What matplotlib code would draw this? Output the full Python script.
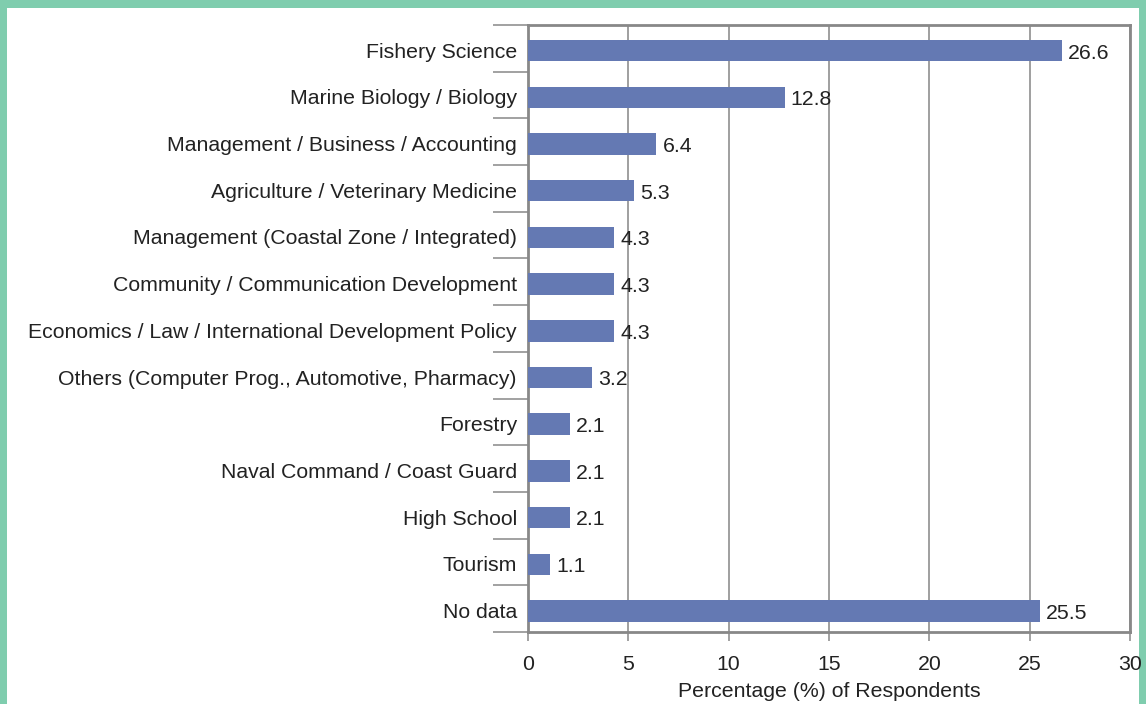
import matplotlib
matplotlib.use("Agg")
import matplotlib.pyplot as plt
from matplotlib.patches import Rectangle
import numpy as np

categories = [
    "Fishery Science",
    "Marine Biology / Biology",
    "Management / Business / Accounting",
    "Agriculture / Veterinary Medicine",
    "Management (Coastal Zone / Integrated)",
    "Community / Communication Development",
    "Economics / Law / International Development Policy",
    "Others (Computer Prog., Automotive, Pharmacy)",
    "Forestry",
    "Naval Command / Coast Guard",
    "High School",
    "Tourism",
    "No data",
]
values = [26.6, 12.8, 6.4, 5.3, 4.3, 4.3, 4.3, 3.2, 2.1, 2.1, 2.1, 1.1, 25.5]
xticks = [0, 5, 10, 15, 20, 25, 30]

plt.rcParams["font.family"] = ["Liberation Sans", "DejaVu Sans"]
FS = 15.3

W, H = 1146, 704
fig = plt.figure(figsize=(W / 100, H / 100), dpi=100)
fig.patch.set_facecolor("#7fcdae")
fig.patches.append(Rectangle((7 / W, 0), (1139 - 7) / W, 1 - 8 / H,
                             transform=fig.transFigure, facecolor="white",
                             edgecolor="none", zorder=-10))

ax = fig.add_axes([528 / W, 1 - 632 / H, (1130 - 528) / W, (632 - 25) / H])
ax.set_facecolor("white")

n = len(categories)
y = np.arange(n)
ax.barh(y + 0.05, values, height=0.46, color="#6479b3", zorder=3)
for yi, v in zip(y, values):
    ax.text(v + 0.3, yi + 0.1, f"{v:.1f}", va="center", ha="left",
            fontsize=FS, color="#222222", zorder=4)

ax.set_ylim(n - 0.5, -0.5)
ax.set_xlim(0, 30)
ax.set_yticks(y + 0.04)
ax.set_yticklabels(categories, fontsize=FS, color="#222222")
ax.set_yticks(np.arange(-0.5, n, 1.0), minor=True)
ax.tick_params(axis="y", which="major", length=0, pad=8)
ax.tick_params(axis="y", which="minor", length=25, width=1.1, color="#888888")
ax.set_xticks(xticks)
ax.tick_params(axis="x", length=6.5, width=1.1, color="#888888", labelsize=FS,
               labelcolor="#222222", pad=10)
ax.xaxis.grid(True, color="#858585", linewidth=1.1, zorder=1)
ax.set_axisbelow(True)
for s in ax.spines.values():
    s.set_color("#888888")
    s.set_linewidth(2)
ax.set_xlabel("Percentage (%) of Respondents", fontsize=FS, color="#222222",
              labelpad=6)

fig.savefig("out.png", dpi=100, facecolor=fig.get_facecolor())
